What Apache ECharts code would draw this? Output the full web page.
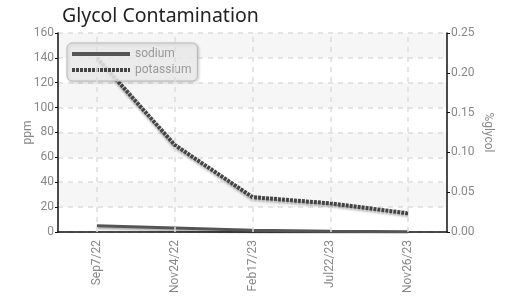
<!DOCTYPE html>
<html><head><meta charset="utf-8">
<script src="https://cdn.jsdelivr.net/npm/echarts@6/dist/echarts.min.js"></script>
<style>html,body{margin:0;padding:0;background:#fff}#c{width:512px;height:296px}</style>
</head><body><div id="c"></div>
<script>
var categories = ['Sep7/22', 'Nov24/22', 'Feb17/23', 'Jul22/23', 'Nov26/23'];
var sodium = [5, 3.2, 1.3, 0.5, 0.2];
var potassium = [140, 70, 28, 23, 15];
var leftTicks = [0, 160, 20];
var rightTicks = [0, 0.25, 0.05];
var FONT = '"Liberation Sans Narrow", "Roboto", sans-serif';
var chart = echarts.init(document.getElementById('c'));
chart.setOption({
  animation: false,
  title: { text: 'Glycol Contamination', left: 57, top: 1,
    textStyle: { fontFamily: '"Noto Sans", sans-serif', fontSize: 19.5, fontWeight: 'normal', color: '#222' } },
  legend: {
    left: 67, top: 43, orient: 'vertical', itemGap: 4, padding: [5, 6, 5, 3],
    itemWidth: 58, itemHeight: 12, itemTextGap: 3,
    backgroundColor: 'rgba(238,238,238,0.85)', borderColor: '#bbb', borderWidth: 1, borderRadius: 5,
    shadowColor: 'rgba(0,0,0,0.2)', shadowBlur: 3, shadowOffsetX: 1, shadowOffsetY: 1,
    textStyle: { fontFamily: FONT, fontSize: 12, color: '#999' },
    data: [
      { name: 'sodium', itemStyle: { opacity: 0 }, lineStyle: { width: 4, color: '#555' } },
      { name: 'potassium', itemStyle: { opacity: 0 }, lineStyle: { width: 4, color: '#444', type: [3, 1] } }
    ]
  },
  grid: { left: 58, right: 65, top: 33, bottom: 64 },
  xAxis: {
    type: 'category', data: categories, boundaryGap: true,
    axisLine: { lineStyle: { color: '#111', width: 1.5 } },
    axisTick: { alignWithLabel: true, length: 4, lineStyle: { color: '#111' } },
    axisLabel: { rotate: 90, fontFamily: FONT, fontSize: 12, color: '#888', margin: 8 },
    splitLine: { show: false }
  },
  yAxis: [
    { type: 'value', min: leftTicks[0], max: leftTicks[1], interval: leftTicks[2],
      name: 'ppm', nameLocation: 'middle', nameGap: 24, nameRotate: 90, nameMoveOverlap: false,
      nameTextStyle: { fontFamily: FONT, fontSize: 12, color: '#888' },
      axisLine: { show: true, lineStyle: { color: '#111', width: 1.5 } },
      axisTick: { show: true, length: 3, lineStyle: { color: '#111' } },
      axisLabel: { fontFamily: FONT, fontSize: 12, color: '#888', margin: 4 },
      splitLine: { show: true, lineStyle: { color: '#ddd', type: [5, 5], width: 1.5 } },
      splitArea: { show: true, areaStyle: { color: ['#ffffff', '#f6f6f6'] } }
    },
    { type: 'value', min: rightTicks[0], max: rightTicks[1], interval: rightTicks[2],
      name: '%glycol', nameLocation: 'middle', nameGap: 35, nameRotate: -90, nameMoveOverlap: false,
      nameTextStyle: { fontFamily: FONT, fontSize: 12, color: '#888' },
      axisLine: { show: true, lineStyle: { color: '#111', width: 1.5 } },
      axisTick: { show: true, length: 3, lineStyle: { color: '#111' } },
      axisLabel: { fontFamily: FONT, fontSize: 12, color: '#888', margin: 4,
        formatter: function (v) { return v.toFixed(2); } },
      splitLine: { show: false }
    }
  ],
  series: [
    { name: 'grid', type: 'line', yAxisIndex: 0, data: [], z: 1, silent: true,
      markLine: { silent: true, symbol: 'none', label: { show: false },
        lineStyle: { color: '#ddd', type: [5, 5], width: 1.5 },
        data: categories.map(function (c) { return { xAxis: c }; }) } },
    { name: 'sodium', type: 'line', yAxisIndex: 0, data: sodium, symbol: 'none', color: '#555', z: 3,
      lineStyle: { color: '#555', width: 3, shadowColor: 'rgba(0,0,0,0.3)', shadowBlur: 2, shadowOffsetY: 2 } },
    { name: 'potassium', type: 'line', yAxisIndex: 0, data: potassium, symbol: 'none', color: '#444', z: 3,
      lineStyle: { color: '#444', width: 4, type: [3, 1], shadowColor: 'rgba(0,0,0,0.3)', shadowBlur: 2, shadowOffsetY: 2 } }
  ]
});
</script></body></html>
